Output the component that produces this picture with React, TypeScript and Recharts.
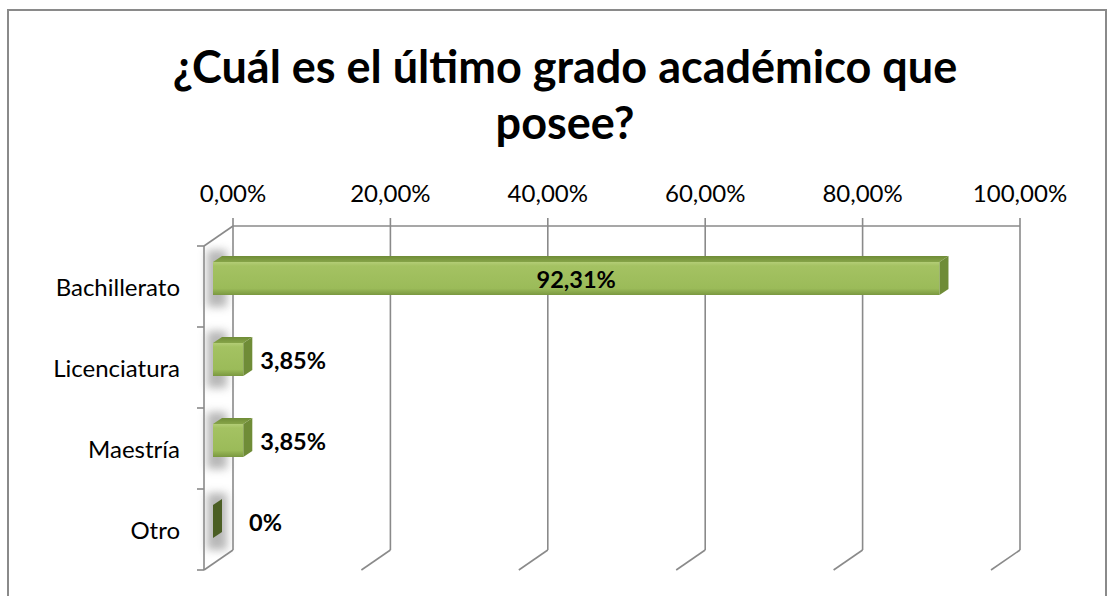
import React from 'react';
import { BarChart, Bar, XAxis, YAxis, CartesianGrid, LabelList } from 'recharts';

const categories = ['Bachillerato', 'Licenciatura', 'Maestría', 'Otro'];
const values = [0.9231, 0.0385, 0.0385, 0];
const tickValues = [0, 0.2, 0.4, 0.6, 0.8, 1];

const data = categories.map((name, i) => ({ name, value: values[i] }));

const FONT = 'Lato, "Open Sans", sans-serif';
const LINE = '#8a8a8a';
const DX = -29; // depth offset (front plane relative to back plane)
const DY = 20;
const BAR_DX = -20;
const BAR_DY = 12;
const TOP_DX = 9;
const TOP_DY = -6;

const fmtTick = (v: number) => (v * 100).toFixed(2).replace('.', ',') + '%';
const fmtLabel = (v: number) => (v === 0 ? '0%' : (v * 100).toFixed(2).replace('.', ',') + '%');

const GridLine = (props: any) => {
  const { x1, y1, x2, y2, index } = props;
  const els: any[] = [];
  els.push(<line key="v" x1={x1} y1={y1} x2={x2} y2={y2} stroke={LINE} strokeWidth={1.6} />);
  els.push(<line key="d" x1={x2} y1={y2} x2={x2 + DX} y2={y2 + DY} stroke={LINE} strokeWidth={1.6} />);
  if (index === 0) {
    const n = categories.length;
    const band = (y2 - y1) / n;
    els.push(<line key="t" x1={x1} y1={y1} x2={x1 + DX} y2={y1 + DY} stroke={LINE} strokeWidth={1.6} />);
    els.push(<line key="f" x1={x1 + DX} y1={y1 + DY} x2={x2 + DX} y2={y2 + DY} stroke={LINE} strokeWidth={1.6} />);
    for (let i = 0; i <= n; i++) {
      const yy = y1 + DY + band * i;
      els.push(<line key={'k' + i} x1={x1 + DX} y1={yy} x2={x1 + DX - 7} y2={yy} stroke={LINE} strokeWidth={1.6} />);
    }
  }
  return <g key={'g' + index}>{els}</g>;
};

const Bar3D = (props: any) => {
  const { x, y, width, height, value } = props;
  const fx = x + BAR_DX;
  const fy = y + BAR_DY;
  const w = Math.max(0, width);
  const h = height;
  const ex = fx + w;
  return (
    <g>
      <rect x={x - 26} y={fy - 12} width={20} height={h + 24} fill="#9a9a9a" opacity={0.7} filter="url(#wallBlur)" />
      {w > 0 && (
        <>
          <path d={`M${fx},${fy} L${fx + TOP_DX},${fy + TOP_DY} L${ex + TOP_DX},${fy + TOP_DY} L${ex},${fy} Z`} fill="url(#topGrad)" />
          <rect x={fx} y={fy} width={w} height={h} fill="url(#frontGrad)" />
        </>
      )}
      <path
        d={`M${ex},${fy} L${ex + TOP_DX},${fy + TOP_DY} L${ex + TOP_DX},${fy + TOP_DY + h} L${ex},${fy + h} Z`}
        fill={value === 0 ? '#4b5e24' : '#6f8c37'}
      />
    </g>
  );
};

const ValueLabel = (props: any) => {
  const { x, y, width, height, value } = props;
  const fx = x + BAR_DX;
  const fy = y + BAR_DY;
  const inside = value > 0.5;
  const tx = inside ? fx + width / 2 : fx + width + (value === 0 ? 36 : 17);
  return (
    <text
      x={tx}
      y={fy + height / 2 + 9}
      textAnchor={inside ? 'middle' : 'start'}
      fontFamily={FONT}
      fontWeight="bold"
      fontSize={23.5}
      fill="#000"
    >
      {fmtLabel(value)}
    </text>
  );
};

const YTick = (props: any) => {
  const { x, y, payload } = props;
  return (
    <text x={x - 53} y={y + 29} textAnchor="end" fontFamily={FONT} fontSize={24} fill="#000">
      {payload.value}
    </text>
  );
};

const XTick = (props: any) => {
  const { x, y, payload } = props;
  return (
    <text x={x} y={y - 8} textAnchor="middle" fontFamily={FONT} fontSize={24} fill="#000">
      {fmtTick(payload.value)}
    </text>
  );
};

export default function App() {
  return (
    <div style={{ position: 'absolute', left: 0, top: 0, width: 1116, height: 596, background: '#fff', overflow: 'hidden' }}>
      <div
        style={{
          position: 'absolute',
          left: 7,
          top: 9,
          width: 1100,
          height: 600,
          border: '2px solid #8a8a8a',
          boxSizing: 'border-box',
        }}
      />
      <div
        style={{
          position: 'absolute',
          left: 0,
          width: 1130,
          top: 38,
          textAlign: 'center',
          fontFamily: FONT,
          fontWeight: 'bold',
          fontSize: 45,
          lineHeight: '56px',
          color: '#000',
        }}
      >
        ¿Cuál es el último grado académico que
        <br />
        posee?
      </div>
      <div style={{ position: 'absolute', left: 0, top: 0 }}>
        <BarChart
          width={1116}
          height={596}
          data={data}
          layout="vertical"
          margin={{ top: 186, right: 96, bottom: 46, left: 53 }}
          barCategoryGap={0}
        >
          <defs>
            <filter id="wallBlur" x="-50%" y="-50%" width="200%" height="200%">
              <feGaussianBlur stdDeviation="4" />
            </filter>
            <linearGradient id="frontGrad" x1="0" y1="0" x2="0" y2="1">
              <stop offset="0" stopColor="#b3cd76" />
              <stop offset="0.12" stopColor="#a4c262" />
              <stop offset="0.8" stopColor="#9bbb59" />
              <stop offset="1" stopColor="#7a9840" />
            </linearGradient>
            <linearGradient id="topGrad" x1="0" y1="0" x2="0" y2="1">
              <stop offset="0" stopColor="#6f8c37" />
              <stop offset="1" stopColor="#86a448" />
            </linearGradient>
          </defs>
          <CartesianGrid horizontal={false} vertical={GridLine} />
          <XAxis
            type="number"
            orientation="top"
            domain={[0, 1]}
            ticks={tickValues}
            height={40}
            axisLine={{ stroke: LINE, strokeWidth: 1.6 }}
            tickLine={{ stroke: LINE, strokeWidth: 1.6 }}
            tickSize={8}
            tickMargin={8}
            tick={XTick}
            interval={0}
          />
          <YAxis
            type="category"
            dataKey="name"
            width={180}
            axisLine={false}
            tickLine={false}
            tickSize={0}
            tickMargin={0}
            tick={YTick}
          />
          <Bar dataKey="value" barSize={33} shape={Bar3D} isAnimationActive={false}>
            <LabelList dataKey="value" content={ValueLabel} />
          </Bar>
        </BarChart>
      </div>
    </div>
  );
}
